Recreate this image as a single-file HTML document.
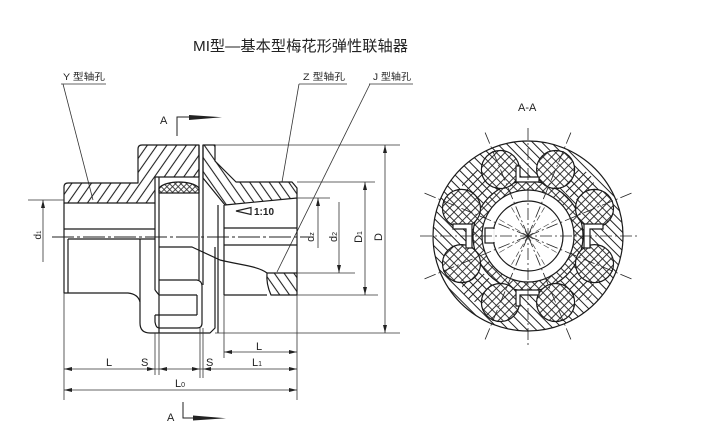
<!DOCTYPE html>
<html><head><meta charset="utf-8"><style>
html,body{margin:0;padding:0;background:#fff;}
svg{display:block;}
text{font-family:"Liberation Sans","Noto Sans CJK SC",sans-serif;fill:#222;}
</style></head><body>
<svg width="702" height="443" viewBox="0 0 702 443" xmlns="http://www.w3.org/2000/svg">
<defs>
<pattern id="hf" width="8" height="8" patternUnits="userSpaceOnUse" patternTransform="rotate(35)"><line x1="4" y1="0" x2="4" y2="8" stroke="#222" stroke-width="1.1"/></pattern>
<pattern id="hb" width="8" height="8" patternUnits="userSpaceOnUse" patternTransform="rotate(-35)"><line x1="4" y1="0" x2="4" y2="8" stroke="#222" stroke-width="1.1"/></pattern>
<pattern id="af" width="6.5" height="6.5" patternUnits="userSpaceOnUse" patternTransform="rotate(45)"><line x1="3" y1="0" x2="3" y2="6.5" stroke="#222" stroke-width="1"/></pattern>
<pattern id="ab" width="6.5" height="6.5" patternUnits="userSpaceOnUse" patternTransform="rotate(-45)"><line x1="3" y1="0" x2="3" y2="6.5" stroke="#222" stroke-width="1"/></pattern>
<pattern id="ch" width="4" height="4" patternUnits="userSpaceOnUse" patternTransform="rotate(45)"><rect width="4" height="4" fill="#fff"/><line x1="2" y1="0" x2="2" y2="4" stroke="#222" stroke-width="0.8"/><line x1="0" y1="2" x2="4" y2="2" stroke="#222" stroke-width="0.8"/></pattern>
<pattern id="cha" width="6" height="6" patternUnits="userSpaceOnUse" patternTransform="rotate(45)"><rect width="6" height="6" fill="#fff"/><line x1="3" y1="0" x2="3" y2="6" stroke="#222" stroke-width="0.9"/><line x1="0" y1="3" x2="6" y2="3" stroke="#222" stroke-width="0.9"/></pattern>
</defs>

<!-- Title -->
<text x="193" y="51" font-size="15" textLength="215" lengthAdjust="spacingAndGlyphs">MI型—基本型梅花形弹性联轴器</text>

<!-- Leader labels -->
<g stroke="#333" stroke-width="0.8" fill="none">
<line x1="61" y1="84" x2="106" y2="84"/>
<line x1="63" y1="84" x2="93" y2="200"/>
<line x1="299" y1="84" x2="347" y2="84"/>
<line x1="299" y1="84" x2="282" y2="182"/>
<line x1="369" y1="84" x2="413" y2="84"/>
<line x1="370" y1="84" x2="277" y2="272"/>
</g>
<text x="63" y="80" font-size="9.5" textLength="42" lengthAdjust="spacingAndGlyphs">Y 型轴孔</text>
<text x="303" y="80" font-size="9.5" textLength="42" lengthAdjust="spacingAndGlyphs">Z 型轴孔</text>
<text x="373" y="80" font-size="9.5" textLength="38" lengthAdjust="spacingAndGlyphs">J 型轴孔</text>

<!-- Section marks A -->
<text x="160" y="124" font-size="11">A</text>
<path d="M177,136 L177,117 L190,117" stroke="#222" stroke-width="1" fill="none"/>
<polygon points="189,115 222,117.3 189,120" fill="#222"/>
<text x="167" y="421" font-size="11">A</text>
<path d="M183,402 L183,418 L194,418" stroke="#222" stroke-width="1" fill="none"/>
<polygon points="193,415.5 226,418.3 193,420.5" fill="#222"/>

<!-- Main drawing -->
<g stroke="#1a1a1a" stroke-width="1.2" fill="none" stroke-linejoin="round">
<!-- left hub hatched -->
<path d="M64,187 Q64,183 68,183 L138,183 L138,149 Q138,145 142,145 L199,145 L199,177 L155,177 L155,203 L64,203 Z" fill="url(#hf)"/>
<!-- spider dome -->
<path d="M159,193 L159,188 C166,180 192,180 199,188 L199,193 Z" fill="url(#ch)"/>
<!-- right hub hatched -->
<path d="M203,145 L215,145 L215,161 L236,182 L292,182 L297,188 L297,198 L225,205 L203,178 Z" fill="url(#hb)"/>
<!-- right hub lower hatched -->
<path d="M267,273 L297,273 L297,295 L271,295 Q266,284 267,273 Z" fill="url(#hb)"/>
<!-- left hub outline lower -->
<path d="M64,203 L64,293 L128,293 Q138,294 140,302 L140,323 Q140,333 150,333 L210,333 L215,328 L215,247"/>
<line x1="140" y1="239" x2="140" y2="302"/>
<line x1="68" y1="239" x2="68" y2="293"/>
<line x1="64" y1="229" x2="155" y2="229"/>
<line x1="68" y1="239" x2="155" y2="239"/>
<!-- jaw verticals -->
<line x1="155" y1="203" x2="155" y2="290"/>
<path d="M155,290 L159,295"/>
<path d="M155,315 L155,322 Q156,328 159,328"/>
<line x1="159" y1="177" x2="159" y2="333"/>
<line x1="199" y1="145" x2="199" y2="280"/>
<line x1="203" y1="145" x2="203" y2="285"/>
<!-- jaw C -->
<path d="M159,280 L197,280 Q202,281 202,286 L202,323 Q202,328 197,328 L159,328"/>
<line x1="159" y1="295" x2="197" y2="295"/>
<line x1="155" y1="315" x2="197" y2="315"/>
<line x1="197" y1="295" x2="197" y2="315"/>
<!-- curve -->
<path d="M159,247 L192,247 L220,260 C240,265 258,266 267,273"/>
<!-- right hub -->
<line x1="218" y1="205" x2="218" y2="333"/>
<line x1="224" y1="205" x2="224" y2="295"/>
<line x1="224" y1="228" x2="297" y2="228"/>
<line x1="224" y1="245" x2="297" y2="245"/>
<line x1="297" y1="198" x2="297" y2="273"/>
<line x1="224" y1="295" x2="267" y2="295"/>
</g>
<!-- taper -->
<polygon points="236,211 251,207.5 251,214.5" fill="none" stroke="#222" stroke-width="1.2"/>
<text x="254" y="215" font-size="10" font-weight="bold" font-family="Liberation Serif, serif">1:10</text>

<!-- centerline -->
<line x1="52" y1="237" x2="306" y2="237" stroke="#222" stroke-width="0.9" stroke-dasharray="22 3 3 3"/>

<!-- dimension / extension lines -->
<g stroke="#333" stroke-width="0.8" fill="none">
<line x1="215" y1="145" x2="400" y2="145"/>
<line x1="297" y1="182" x2="375" y2="182"/>
<line x1="297" y1="198" x2="330" y2="198"/>
<line x1="297" y1="273" x2="355" y2="273"/>
<line x1="297" y1="295" x2="378" y2="295"/>
<line x1="215" y1="333" x2="400" y2="333"/>
<line x1="385" y1="145" x2="385" y2="333"/>
<line x1="365" y1="182" x2="365" y2="295"/>
<line x1="339" y1="202" x2="339" y2="273"/>
<line x1="318" y1="198" x2="318" y2="248"/>
<line x1="28" y1="200" x2="64" y2="200"/>
<line x1="43" y1="200" x2="43" y2="262"/>
<!-- bottom extensions -->
<line x1="64" y1="293" x2="64" y2="400"/>
<line x1="297" y1="295" x2="297" y2="400"/>
<line x1="224" y1="295" x2="224" y2="358"/>
<line x1="155" y1="333" x2="155" y2="375"/>
<line x1="159" y1="333" x2="159" y2="375"/>
<line x1="200" y1="328" x2="200" y2="378"/>
<line x1="203" y1="328" x2="203" y2="378"/>
<line x1="224" y1="352" x2="297" y2="352"/>
<line x1="64" y1="369" x2="297" y2="369"/>
<line x1="64" y1="390" x2="297" y2="390"/>
</g>
<g fill="#222">
<!-- vertical arrows -->
<polygon points="385,145 383,153 387,153"/>
<polygon points="385,333 383,325 387,325"/>
<polygon points="365,182 363,190 367,190"/>
<polygon points="365,295 363,287 367,287"/>
<polygon points="339,273 337,265 341,265"/>
<polygon points="318,198 316,206 320,206"/>
<polygon points="43,200 41,208 45,208"/>
<!-- horizontal arrows -->
<polygon points="224,352 232,350 232,354"/>
<polygon points="297,352 289,350 289,354"/>
<polygon points="64,369 72,367 72,371"/>
<polygon points="155,369 147,367 147,371"/>
<polygon points="159,369 167,367 167,371"/>
<polygon points="200,369 192,367 192,371"/>
<polygon points="203,369 211,367 211,371"/>
<polygon points="297,369 289,367 289,371"/>
<polygon points="64,390 72,388 72,392"/>
<polygon points="297,390 289,388 289,392"/>
</g>
<!-- dimension labels -->
<text font-size="11" transform="translate(314,237) rotate(-90)" text-anchor="middle">d<tspan font-size="7">z</tspan></text>
<text font-size="11" transform="translate(337,237) rotate(-90)" text-anchor="middle">d<tspan font-size="7">2</tspan></text>
<text font-size="11" transform="translate(362,237) rotate(-90)" text-anchor="middle">D<tspan font-size="7">1</tspan></text>
<text font-size="11" transform="translate(382,237) rotate(-90)" text-anchor="middle">D</text>
<text font-size="10" transform="translate(41,235) rotate(-90)" text-anchor="middle">d<tspan font-size="6">1</tspan></text>
<text x="256" y="350" font-size="11">L</text>
<text x="106" y="366" font-size="11">L</text>
<text x="141" y="366" font-size="11">S</text>
<text x="206" y="366" font-size="11">S</text>
<text x="252" y="366" font-size="11">L<tspan font-size="7">1</tspan></text>
<text x="175" y="387" font-size="11">L<tspan font-size="7">0</tspan></text>

<!-- A-A section -->
<text x="518" y="111" font-size="11">A-A</text>
<g stroke="#1a1a1a" stroke-width="1.2">
<circle cx="528" cy="236" r="95" fill="url(#ab)"/>
<circle cx="477" cy="185" r="15" fill="url(#af)" stroke="none"/>
<circle cx="579" cy="185" r="15" fill="url(#af)" stroke="none"/>
<circle cx="477" cy="287" r="15" fill="url(#af)" stroke="none"/>
<circle cx="579" cy="287" r="15" fill="url(#af)" stroke="none"/>
<circle cx="528" cy="236" r="55" fill="url(#cha)"/>
<circle cx="594.5" cy="208.4" r="19" fill="url(#cha)"/>
<circle cx="555.6" cy="169.5" r="19" fill="url(#cha)"/>
<circle cx="500.4" cy="169.5" r="19" fill="url(#cha)"/>
<circle cx="461.5" cy="208.4" r="19" fill="url(#cha)"/>
<circle cx="461.5" cy="263.6" r="19" fill="url(#cha)"/>
<circle cx="500.4" cy="302.5" r="19" fill="url(#cha)"/>
<circle cx="555.6" cy="302.5" r="19" fill="url(#cha)"/>
<circle cx="594.5" cy="263.6" r="19" fill="url(#cha)"/>
<circle cx="528" cy="236" r="46" fill="#fff"/>
<circle cx="528" cy="236" r="35" fill="#fff"/>
<rect x="485" y="228" width="9" height="15" fill="#fff"/>
<!-- notches -->
<path d="M516,166 L520,166 L520,177 L539,177 L539,182 L516,182 Z" fill="#fff"/>
<path d="M516,306 L520,306 L520,295 L539,295 L539,290 L516,290 Z" fill="#fff"/>
<path d="M453,224 L472,224 L472,248 L466,248 L466,229 L453,229 Z" fill="#fff"/>
<path d="M603,224 L584,224 L584,248 L590,248 L590,229 L603,229 Z" fill="#fff"/>
</g>
<line x1="494" y1="229" x2="494" y2="242" stroke="#fff" stroke-width="1.5"/>
<!-- radial dash-dot lines -->
<g stroke="#222" stroke-width="0.8" stroke-dasharray="12 3 2 3" fill="none">
<line x1="528" y1="236" x2="631.5" y2="193.1"/>
<line x1="528" y1="236" x2="570.9" y2="132.5"/>
<line x1="528" y1="236" x2="485.1" y2="132.5"/>
<line x1="528" y1="236" x2="424.5" y2="193.1"/>
<line x1="528" y1="236" x2="424.5" y2="278.9"/>
<line x1="528" y1="236" x2="485.1" y2="339.5"/>
<line x1="528" y1="236" x2="570.9" y2="339.5"/>
<line x1="528" y1="236" x2="631.5" y2="278.9"/>
<line x1="420" y1="236" x2="637" y2="236"/>
<line x1="528" y1="128" x2="528" y2="345"/>
</g>
<g stroke="#444" stroke-width="0.7" stroke-dasharray="6 3" fill="none">
<line x1="528" y1="236" x2="558.3" y2="218.5"/>
<line x1="528" y1="236" x2="545.5" y2="205.7"/>
<line x1="528" y1="236" x2="510.5" y2="205.7"/>
<line x1="528" y1="236" x2="497.7" y2="218.5"/>
<line x1="528" y1="236" x2="497.7" y2="253.5"/>
<line x1="528" y1="236" x2="510.5" y2="266.3"/>
<line x1="528" y1="236" x2="545.5" y2="266.3"/>
<line x1="528" y1="236" x2="558.3" y2="253.5"/>
</g>
<circle cx="528" cy="236" r="1.5" fill="#222"/>
</svg>
</body></html>
